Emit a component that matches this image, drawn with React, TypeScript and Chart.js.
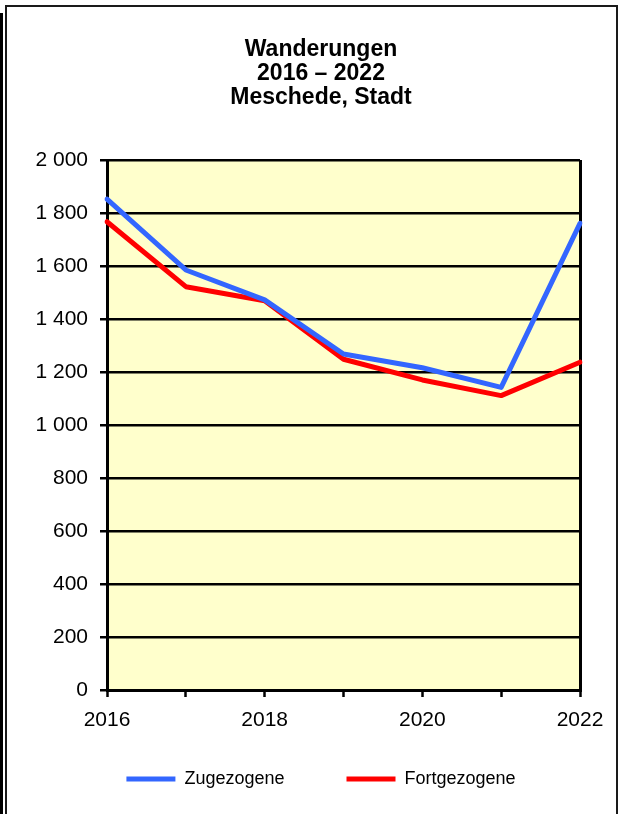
import React, { useEffect, useRef } from "react";
import { Chart, registerables } from "chart.js";

Chart.register(...registerables);

const years = ["2016", "2017", "2018", "2019", "2020", "2021", "2022"];
const xTickLabels = ["2016", "", "2018", "", "2020", "", "2022"];
const zugezogene = [1852, 1585, 1472, 1268, 1216, 1142, 1761];
const fortgezogene = [1767, 1522, 1469, 1248, 1170, 1111, 1237];
const yTicks = [0, 200, 400, 600, 800, 1000, 1200, 1400, 1600, 1800, 2000];
const yTickLabels = ["0", "200", "400", "600", "800", "1 000", "1 200", "1 400", "1 600", "1 800", "2 000"];
const titleLines = ["Wanderungen", "2016 \u2013 2022", "Meschede, Stadt"];
const seriesNames = ["Zugezogene", "Fortgezogene"];

const FONT = "'Liberation Sans', Arial, Helvetica, sans-serif";

const framePlugin = {
  id: "frameBg",
  beforeDraw(chart: any) {
    const { ctx, chartArea } = chart;
    ctx.save();
    ctx.fillStyle = "#ffffff";
    ctx.fillRect(0, 0, chart.width, chart.height);
    // left black bar
    ctx.fillStyle = "#000000";
    ctx.fillRect(0, 13, 3, chart.height - 13);
    // frame
    ctx.strokeStyle = "#1a1a1a";
    ctx.lineWidth = 2;
    ctx.beginPath();
    ctx.moveTo(6, chart.height + 2);
    ctx.lineTo(6, 6);
    ctx.lineTo(617, 6);
    ctx.lineTo(617, chart.height + 2);
    ctx.stroke();
    // plot background
    ctx.fillStyle = "#FFFFCC";
    ctx.fillRect(chartArea.left, chartArea.top, chartArea.right - chartArea.left, chartArea.bottom - chartArea.top);
    ctx.restore();
  },
};

// let tick labels draw outside the (fixed-size) scale boxes
const noLabelClip = (s: any) => {
  s._computeLabelArea = () => undefined;
};

export default function App() {
  const ref = useRef<HTMLCanvasElement | null>(null);

  useEffect(() => {
    if (!ref.current) return;
    Chart.defaults.font.family = FONT;
    const chart = new Chart(ref.current, {
      type: "line",
      data: {
        labels: years,
        datasets: [
          {
            label: seriesNames[0],
            data: zugezogene,
            borderColor: "#3366FF",
            backgroundColor: "#3366FF",
            borderWidth: 5,
            pointRadius: 0,
            tension: 0,
            borderCapStyle: "round",
            borderJoinStyle: "round",
          },
          {
            label: seriesNames[1],
            data: fortgezogene,
            borderColor: "#FF0000",
            backgroundColor: "#FF0000",
            borderWidth: 5,
            pointRadius: 0,
            tension: 0,
            borderCapStyle: "round",
            borderJoinStyle: "round",
          },
        ],
      },
      options: {
        responsive: false,
        animation: false,
        devicePixelRatio: 1,
        layout: { padding: { left: 62, right: 39, top: 0, bottom: 16 } },
        plugins: {
          title: {
            display: true,
            text: titleLines,
            color: "#000",
            font: { size: 23, weight: "bold", lineHeight: 24 / 23 },
            padding: { top: 38, bottom: 50 },
          },
          legend: {
            position: "bottom",
            labels: {
              usePointStyle: true,
              pointStyle: "line",
              pointStyleWidth: 49,
              color: "#000",
              font: { size: 18 },
              padding: 62,
            },
          },
          tooltip: { enabled: false },
        },
        scales: {
          x: {
            type: "category",
            offset: false,
            afterFit: (s: any) => {
              s.height = 18;
              noLabelClip(s);
            },
            grid: {
              display: true,
              drawOnChartArea: true,
              color: (c: any) => (c.index === years.length - 1 ? "#000" : "rgba(0,0,0,0)"),
              lineWidth: 3,
              tickColor: "#000",
              tickWidth: 2.5,
              tickLength: 7,
            },
            border: { display: true, color: "#000", width: 3 },
            ticks: {
              autoSkip: false,
              maxRotation: 0,
              color: "#000",
              font: { size: 21 },
              padding: 11,
              callback: (_v: any, i: number) => xTickLabels[i],
            },
          },
          y: {
            min: 0,
            max: 2000,
            afterFit: (s: any) => {
              s.width = 45;
              noLabelClip(s);
            },
            afterBuildTicks: (s: any) => {
              s.ticks = yTicks.map((v) => ({ value: v }));
            },
            grid: {
              color: "#000",
              lineWidth: 2.5,
              tickColor: "#000",
              tickLength: 7,
            },
            border: { display: true, color: "#000", width: 3 },
            ticks: {
              color: "#000",
              font: { size: 21 },
              padding: 12,
              callback: (v: any) => {
                const i = yTicks.indexOf(Number(v));
                return i >= 0 ? yTickLabels[i] : "";
              },
            },
          },
        },
      },
      plugins: [framePlugin],
    });
    return () => chart.destroy();
  }, []);

  return (
    <div style={{ position: "absolute", left: 0, top: 0, width: 619, height: 814 }}>
      <canvas ref={ref} width={619} height={814} style={{ display: "block", width: 619, height: 814 }} />
    </div>
  );
}
